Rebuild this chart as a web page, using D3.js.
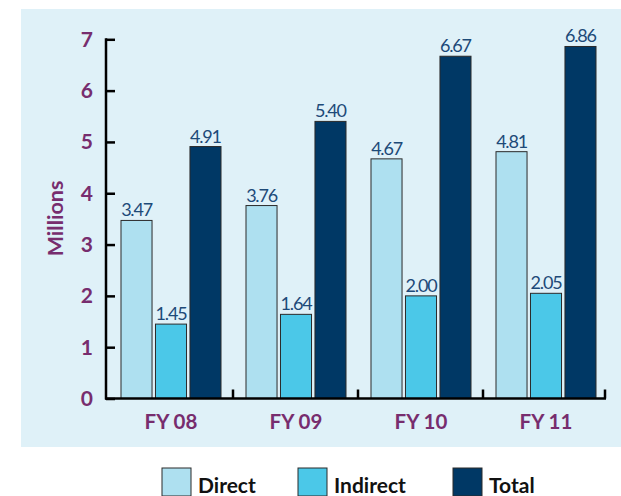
<!DOCTYPE html>
<html>
<head>
<meta charset="utf-8">
<script src="https://cdn.jsdelivr.net/npm/d3@7"></script>
<style>
  body { margin: 0; background: #fff; }
  text { font-family: Lato, "Open Sans", sans-serif; }
</style>
</head>
<body>
<svg width="621" height="496"></svg>
<script>
// data
const years = ["FY 08", "FY 09", "FY 10", "FY 11"];
const seriesNames = ["Direct", "Indirect", "Total"];
const direct = [3.47, 3.76, 4.67, 4.81];
const indirect = [1.45, 1.64, 2.00, 2.05];
const total = [4.91, 5.40, 6.67, 6.86];
const yTicks = [0, 1, 2, 3, 4, 5, 6, 7];

const colors = ["#aee0f0", "#4bc8e8", "#003865"];
const purple = "#772d6e";
const labelColor = "#1d4a78";

const svg = d3.select("svg");

// light panel
svg.append("rect")
    .attr("x", 21).attr("y", 9)
    .attr("width", 600).attr("height", 438)
    .attr("fill", "#dff1f8");

const plot = {l: 106, r: 605, t: 39.3, b: 398.5};

const scaleX = d3.scaleBand()
    .domain(years)
    .range([108.5, 608.5]);

const scaleY = d3.scaleLinear()
    .domain([0, 7])
    .range([plot.b, plot.t]);

const inner = d3.scaleBand()
    .domain(seriesNames)
    .range([0, 100])
    .paddingInner(0.1);

const data = years.map((y, i) => ({
    year: y,
    values: [direct[i], indirect[i], total[i]]
}));

// bars
const groups = svg.selectAll(".grp")
    .data(data)
    .enter().append("g")
    .attr("class", "grp")
    .attr("transform", d => `translate(${scaleX(d.year) + scaleX.bandwidth()/2 - 50},0)`);

groups.selectAll("rect")
    .data(d => d.values.map((v, j) => ({v: v, s: seriesNames[j], j: j})))
    .enter().append("rect")
    .attr("x", d => inner(d.s))
    .attr("y", d => scaleY(d.v))
    .attr("width", inner.bandwidth())
    .attr("height", d => scaleY(0) - scaleY(d.v))
    .attr("fill", d => colors[d.j])
    .attr("stroke", "#2a2a2a")
    .attr("stroke-width", 1);

groups.selectAll(".val")
    .data(d => d.values.map((v, j) => ({v: v, s: seriesNames[j]})))
    .enter().append("text")
    .attr("class", "val")
    .attr("x", d => inner(d.s) + inner.bandwidth()/2)
    .attr("y", d => scaleY(d.v) - 4)
    .attr("text-anchor", "middle")
    .attr("fill", labelColor)
    .attr("font-size", 18)
    .attr("letter-spacing", -1.2)
    .text(d => d3.format(".2f")(d.v));

// y axis
const yAxis = svg.append("g")
    .attr("transform", `translate(${plot.l},0)`)
    .call(d3.axisRight(scaleY).tickValues(yTicks).tickSize(9).tickFormat(""));
yAxis.select(".domain").remove();
yAxis.selectAll("line").attr("stroke", "#000").attr("stroke-width", 2.5);

svg.append("line")
    .attr("x1", plot.l).attr("x2", plot.l)
    .attr("y1", plot.t - 1).attr("y2", plot.b + 1)
    .attr("stroke", "#000").attr("stroke-width", 2.5);

svg.selectAll(".ylab")
    .data(yTicks)
    .enter().append("text")
    .attr("class", "ylab")
    .attr("x", 93)
    .attr("y", d => scaleY(d) + 7.5)
    .attr("text-anchor", "end")
    .attr("fill", purple)
    .attr("font-weight", "bold")
    .attr("font-size", 21)
    .text(d => d);

// x axis
svg.append("line")
    .attr("x1", plot.l - 1).attr("x2", plot.r + 1)
    .attr("y1", plot.b).attr("y2", plot.b)
    .attr("stroke", "#000").attr("stroke-width", 2.5);

const bounds = years.slice(1).map(y => scaleX(y) - 0.5).concat([plot.r]);
svg.selectAll(".xtick")
    .data(bounds)
    .enter().append("line")
    .attr("x1", d => d).attr("x2", d => d)
    .attr("y1", plot.b).attr("y2", plot.b - 9)
    .attr("stroke", "#000").attr("stroke-width", 2.5);

svg.selectAll(".xlab")
    .data(years)
    .enter().append("text")
    .attr("class", "xlab")
    .attr("x", d => scaleX(d) + scaleX.bandwidth()/2)
    .attr("y", 429)
    .attr("text-anchor", "middle")
    .attr("fill", purple)
    .attr("font-weight", "bold")
    .attr("font-size", 20.5)
    .text(d => d);

// y title
svg.append("text")
    .attr("transform", "translate(63,218.5) rotate(-90)")
    .attr("text-anchor", "middle")
    .attr("fill", purple)
    .attr("font-weight", "bold")
    .attr("font-size", 21.5)
    .text("Millions");

// legend
const legendX = [162, 298, 453];
const legend = svg.selectAll(".leg")
    .data(seriesNames)
    .enter().append("g")
    .attr("class", "leg")
    .attr("transform", (d, i) => `translate(${legendX[i]},468)`);

legend.append("rect")
    .attr("width", 29).attr("height", 28)
    .attr("fill", (d, i) => colors[i])
    .attr("stroke", "#2a2a2a")
    .attr("stroke-width", 1);

legend.append("text")
    .attr("x", 36)
    .attr("y", 25)
    .attr("fill", "#111")
    .attr("font-weight", "bold")
    .attr("font-size", 21)
    .text(d => d);
</script>
</body>
</html>
